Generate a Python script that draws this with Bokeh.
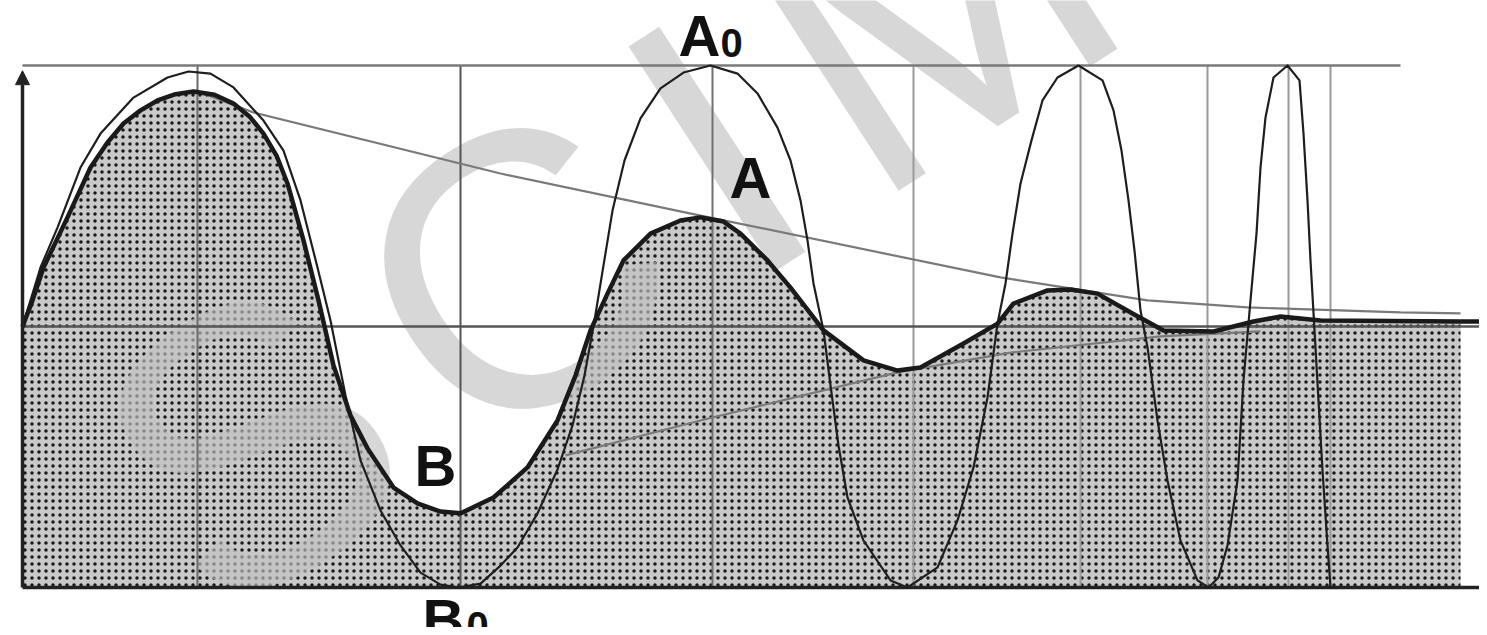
from bokeh.plotting import figure
from bokeh.models import Range1d, Arrow, NormalHead
from bokeh.core.properties import value
from bokeh.embed import file_html
from bokeh.resources import INLINE

# ---- data (time in arbitrary units, amplitude normalised to +/-1) ----
# constant-amplitude chirp (thin line)
thin_t = [0.00, 0.08, 0.18, 0.35, 0.58, 0.78, 1.11, 1.45, 1.66, 1.88, 2.11, 2.41, 2.61, 2.78,
          2.95, 3.08, 3.23, 3.38, 3.58, 3.78, 3.98, 4.18, 4.36, 4.58, 4.78, 4.95, 5.15, 5.35,
          5.50, 5.62, 5.72, 5.81, 5.90, 6.02, 6.18, 6.38, 6.61, 6.88, 7.15, 7.35, 7.55, 7.68,
          7.78, 7.85, 7.91, 8.01, 8.08, 8.16, 8.25, 8.41, 8.68, 8.85, 9.15, 9.35, 9.51, 9.65,
          9.75, 9.83, 9.90, 9.98, 10.09, 10.20, 10.35, 10.56, 10.80, 10.91, 10.99, 11.06, 11.12,
          11.18, 11.25, 11.35, 11.45, 11.58, 11.75, 11.86, 11.96, 12.05, 12.15, 12.21, 12.28,
          12.34, 12.38, 12.43, 12.51, 12.65, 12.77, 12.81, 12.85, 12.88, 12.92, 12.96, 13.00,
          13.04, 13.08]
thin_a = [0.000, 0.100, 0.226, 0.379, 0.609, 0.739, 0.877, 0.954, 0.977, 0.969, 0.916, 0.789,
          0.674, 0.483, 0.226, 0.023, -0.264, -0.513, -0.705, -0.839, -0.943, -0.989, -1.000,
          -0.985, -0.916, -0.847, -0.716, -0.548, -0.379, -0.188, 0.023, 0.234, 0.444, 0.636,
          0.797, 0.912, 0.973, 1.000, 0.969, 0.893, 0.762, 0.636, 0.483, 0.330, 0.165, -0.015,
          -0.226, -0.456, -0.655, -0.820, -0.973, -1.000, -0.923, -0.743, -0.540, -0.272, 0.011,
          0.165, 0.356, 0.548, 0.713, 0.866, 0.954, 1.000, 0.943, 0.828, 0.674, 0.483, 0.291,
          0.061, -0.080, -0.360, -0.590, -0.820, -0.973, -1.000, -0.962, -0.839, -0.590, -0.207,
          0.100, 0.356, 0.609, 0.801, 0.954, 1.000, 0.943, 0.739, 0.483, 0.253, -0.015, -0.284,
          -0.552, -0.782, -1.000]

# damped response (thick line with stippled area)
thick_t = [0.00, 0.10, 0.21, 0.45, 0.68, 0.85, 1.01, 1.18, 1.35, 1.53, 1.71, 1.92, 2.11, 2.27,
           2.41, 2.54, 2.65, 2.81, 2.96, 3.11, 3.28, 3.45, 3.71, 3.95, 4.18, 4.38, 4.71, 5.05,
           5.35, 5.53, 5.68, 5.85, 6.01, 6.28, 6.58, 6.78, 7.01, 7.18, 7.45, 7.68, 8.01, 8.41,
           8.75, 8.98, 9.41, 9.75, 9.91, 10.25, 10.48, 10.75, 11.10, 11.41, 11.91, 12.31, 12.58,
           12.98, 14.38, 14.65]
thick_a = [0.000, 0.100, 0.226, 0.418, 0.609, 0.705, 0.778, 0.828, 0.866, 0.890, 0.900, 0.888,
           0.854, 0.805, 0.739, 0.655, 0.548, 0.330, 0.100, -0.149, -0.341, -0.467, -0.617,
           -0.678, -0.709, -0.716, -0.655, -0.540, -0.360, -0.188, -0.015, 0.126, 0.253, 0.356,
           0.406, 0.418, 0.402, 0.356, 0.253, 0.149, -0.015, -0.130, -0.169, -0.157, -0.065,
           0.011, 0.088, 0.138, 0.142, 0.126, 0.050, -0.015, -0.019, 0.019, 0.038, 0.023, 0.019,
           0.019]
fill_end_t = 14.38

# envelope lines
upper_env_t = [1.78, 2.31, 4.78, 6.78, 9.78, 11.25, 12.25, 13.78, 14.38]
upper_env_a = [0.897, 0.820, 0.586, 0.425, 0.188, 0.100, 0.073, 0.054, 0.050]
lower_env_t = [5.43, 6.78, 8.75, 9.88, 11.38, 12.38]
lower_env_a = [-0.494, -0.360, -0.176, -0.100, -0.038, -0.019]

# vertical reference lines (extrema of the chirp)
vref_t = [1.75, 4.38, 6.90, 8.91, 10.58, 11.85, 12.66, 13.08]

TOP, MID, BOTTOM = 1.0, 0.0, -1.0
top_end_t = 13.78
axis_end_t = 14.65
axis_tip_a = 0.98

# labels (centres)
lab_text = ["A", "0", "A", "B", "B", "0"]
lab_t = [6.77, 7.09, 7.28, 4.13, 4.21, 4.55]
lab_a = [1.115, 1.088, 0.571, -0.533, -1.123, -1.149]
lab_size = ["58px", "40px", "58px", "58px", "58px", "40px"]

# watermark letters (centres)
wm_text = ["S", "C", "I", "M"]
wm_t = [2.28, 4.91, 6.94, 9.12]
wm_a = [-0.452, 0.203, 0.682, 1.226]

# ---- figure ----
p = figure(width=1479, height=627,
           x_range=Range1d(-0.22, 14.57), y_range=Range1d(-1.1533, 1.249),
           output_backend="svg", toolbar_location=None,
           x_axis_type=None, y_axis_type=None, min_border=0,
           outline_line_color=None, background_fill_color="white",
           border_fill_color="white")
p.grid.visible = False

# stippled area under the damped response
fill_t = [t for t in thick_t if t <= fill_end_t]
fill_a = [a for t, a in zip(thick_t, thick_a) if t <= fill_end_t]
p.varea(x=fill_t, y1=[BOTTOM] * len(fill_t), y2=fill_a,
        fill_color="#9c9c9c", fill_alpha=0.55,
        hatch_pattern="dot", hatch_scale=7, hatch_weight=3,
        hatch_color="#181818", hatch_alpha=1.0)

# watermark (lightens the stipple, under the lines)
p.text(x=wm_t, y=wm_a, text=wm_text, angle=0.576,
       text_font=value("Liberation Sans"), text_font_size="390px",
       text_color="#c2c2c2", text_alpha=0.65,
       text_align="center", text_baseline="middle")

# vertical reference lines
p.segment(x0=vref_t, y0=[BOTTOM] * len(vref_t), x1=vref_t, y1=[TOP] * len(vref_t),
          line_color=["#6a6a6a", "#555555", "#707070", "#999999", "#999999",
                      "#999999", "#999999", "#999999"],
          line_width=2)

# horizontal reference lines
p.line([0, top_end_t], [TOP, TOP], line_color="#7a7a7a", line_width=2.5)
p.line([0, axis_end_t], [MID, MID], line_color="#555555", line_width=2.5)
p.line([0, axis_end_t], [BOTTOM, BOTTOM], line_color="#222222", line_width=3.5)

# envelopes
p.line(upper_env_t, upper_env_a, line_color="#7a7a7a", line_width=2.2)
p.line(lower_env_t, lower_env_a, line_color="#7a7a7a", line_width=2.2)

# curves
p.line(thin_t, thin_a, line_color="#1e1e1e", line_width=2.2, line_join="round")
p.line(thick_t, thick_a, line_color="#1a1a1a", line_width=4.5, line_join="round")

# left axis with arrow
p.add_layout(Arrow(end=NormalHead(size=14, fill_color="#222222", line_color="#222222"),
                   x_start=0, y_start=BOTTOM, x_end=0, y_end=axis_tip_a,
                   line_color="#222222", line_width=3.5))

# labels
p.text(x=lab_t, y=lab_a, text=lab_text, text_font_size=lab_size,
       text_font=value("Liberation Sans"), text_font_style="bold",
       text_color="#111111", text_align="center", text_baseline="middle")

open("out.html", "w").write(file_html(p, INLINE))
